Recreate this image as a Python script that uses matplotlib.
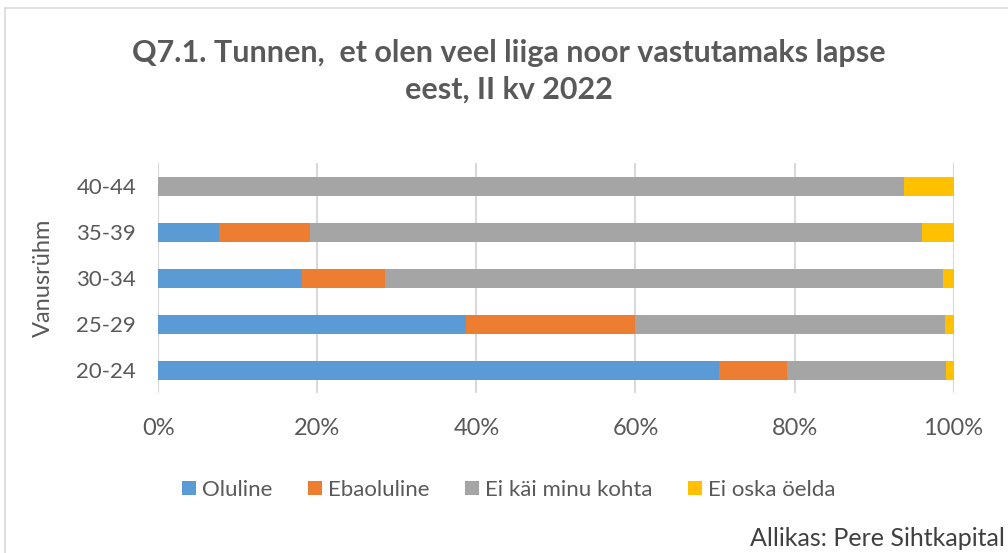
import numpy as np
import matplotlib.pyplot as plt
from matplotlib.patches import Rectangle

plt.rcParams["font.family"] = ["Lato", "DejaVu Sans"]

# ============================================================
# Data (share of respondents, %)
# ============================================================
groups = ["20-24", "25-29", "30-34", "35-39", "40-44"]
oluline = [70.5, 38.7, 18.1, 7.7, 0.0]
ebaoluline = [8.6, 21.3, 10.4, 11.4, 0.0]
ei_kai = [19.9, 38.9, 70.2, 76.9, 93.8]
ei_oska = [1.0, 1.1, 1.3, 4.0, 6.2]

series = [
    ("Oluline", oluline, "#5B9BD5"),
    ("Ebaoluline", ebaoluline, "#ED7D31"),
    ("Ei käi minu kohta", ei_kai, "#A5A5A5"),
    ("Ei oska öelda", ei_oska, "#FFC000"),
]

fig = plt.figure(figsize=(10.08, 5.53), dpi=100, facecolor="white")
ax = fig.add_axes([0.157, 0.289, 0.789, 0.416])

y = np.arange(len(groups))
left = np.zeros(len(groups))
for name, vals, col in series:
    vals = np.array(vals)
    ax.barh(y, vals, left=left, height=0.41, color=col, label=name,
            edgecolor="none", zorder=3)
    left += vals

ax.set_xlim(0, 100)
ax.set_ylim(-0.5, len(groups) - 0.5)
ax.set_xticks(np.arange(0, 101, 20))
ax.set_xticklabels([f"{v}%" for v in range(0, 101, 20)])
ax.set_yticks(y)
ax.set_yticklabels(groups)
ax.grid(axis="x", color="#D9D9D9", linewidth=1.5, zorder=0)
for s in ax.spines.values():
    s.set_visible(False)
ax.tick_params(axis="both", length=0, colors="#595959")
ax.tick_params(axis="x", pad=18, labelsize=17)
ax.tick_params(axis="y", pad=16, labelsize=16)
ax.set_ylabel("Vanusrühm", fontsize=17, color="#595959", labelpad=16)

fig.text(0.505, 0.871, "Q7.1. Tunnen,  et olen veel liiga noor vastutamaks lapse\neest, II kv 2022",
         ha="center", va="center", fontsize=22, fontweight="bold",
         color="#595959", linespacing=1.4)

leg = fig.legend(loc="center", bbox_to_anchor=(0.505, 0.114), ncol=4,
                 frameon=False, fontsize=16, handlelength=0.6,
                 handleheight=0.6, handletextpad=0.3, columnspacing=1.6)
for t in leg.get_texts():
    t.set_color("#595959")

fig.text(0.997, 0.027, "Allikas: Pere Sihtkapital", ha="right", va="center",
         fontsize=18, color="#404040")

fig.patches.append(Rectangle((0.005, -0.1), 1.2, 1.085, transform=fig.transFigure,
                             fill=False, edgecolor="#D9D9D9", linewidth=1.2))

fig.savefig("out.png", dpi=100, facecolor="white")
